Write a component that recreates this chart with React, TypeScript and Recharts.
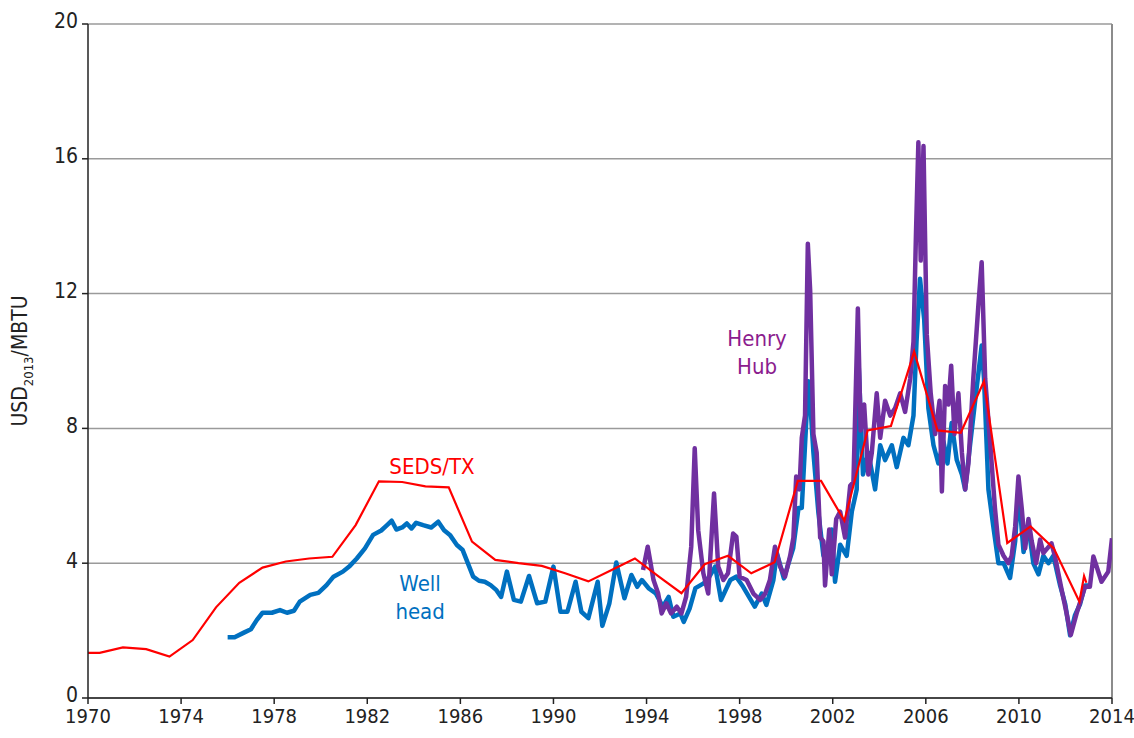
import { CartesianGrid, Line, LineChart, ReferenceDot, ReferenceLine, XAxis, YAxis } from "recharts";

const FONT = "'Liberation Sans Narrow', 'Arial Narrow', 'DejaVu Sans Condensed', sans-serif";

const xTicks = [1970, 1974, 1978, 1982, 1986, 1990, 1994, 1998, 2002, 2006, 2010, 2014];
const yTicks = [0, 4, 8, 12, 16, 20];

// SEDS/TX (annual)
const sedsYears = [
  1970, 1970.5, 1971.5, 1972.5, 1973.5, 1974.5, 1975.5, 1976.5, 1977.5, 1978.5, 1979.5, 1980.5,
  1981.5, 1982.5, 1983.5, 1984.5, 1985.5, 1986.5, 1987.5, 1988.5, 1989.5, 1990.5, 1991.5, 1992.5,
  1993.5, 1994.5, 1995.5, 1996.5, 1997.5, 1998.5, 1999.5, 2000.5, 2001.5, 2002.5, 2003.5, 2004.5,
  2005.5, 2006.5, 2007.5, 2008.5, 2009.5, 2010.5, 2011.5, 2012.6, 2012.8, 2012.9,
];
const sedsValues = [
  1.34, 1.34, 1.5, 1.45, 1.23, 1.72, 2.69, 3.42, 3.87, 4.05, 4.14, 4.19,
  5.13, 6.43, 6.41, 6.28, 6.25, 4.64, 4.1, 4.0, 3.92, 3.7, 3.46, 3.8,
  4.14, 3.62, 3.11, 3.97, 4.22, 3.7, 4.03, 6.44, 6.44, 5.26, 7.94, 8.07,
  10.28, 7.94, 7.87, 9.4, 4.6, 5.09, 4.44, 2.86, 3.62, 3.42,
];

// Well head
const wellYears = [
  1976.0, 1976.3, 1976.7, 1977.0, 1977.25, 1977.5, 1977.9, 1978.25, 1978.55, 1978.85, 1979.1, 1979.55,
  1979.9, 1980.25, 1980.55, 1980.95, 1981.25, 1981.55, 1981.9, 1982.25, 1982.6, 1982.85, 1983.05, 1983.25,
  1983.5, 1983.7, 1983.9, 1984.1, 1984.4, 1984.75, 1985.05, 1985.3, 1985.55, 1985.85, 1986.1, 1986.35,
  1986.55, 1986.8, 1987.05, 1987.3, 1987.55, 1987.75, 1988.0, 1988.3, 1988.6, 1988.95, 1989.3, 1989.65,
  1990.0, 1990.3, 1990.6, 1990.95, 1991.2, 1991.5, 1991.9, 1992.1, 1992.4, 1992.7, 1993.05, 1993.35,
  1993.6, 1993.8, 1994.1, 1994.4, 1994.7, 1994.95, 1995.15, 1995.45, 1995.6, 1995.85, 1996.1, 1996.45,
  1996.7, 1996.95, 1997.2, 1997.6, 1997.85, 1998.15, 1998.65, 1998.95, 1999.15, 1999.45, 1999.6, 1999.9,
  2000.3, 2000.53, 2000.67, 2000.81, 2000.95, 2001.05, 2001.17, 2001.38, 2001.6, 2001.82, 2001.96, 2002.1,
  2002.32, 2002.6, 2002.82, 2003.03, 2003.12, 2003.3, 2003.53, 2003.82, 2004.04, 2004.25, 2004.54, 2004.75,
  2005.04, 2005.25, 2005.47, 2005.6, 2005.75, 2005.93, 2006.11, 2006.33, 2006.54, 2006.76, 2006.93, 2007.11,
  2007.33, 2007.55, 2007.69, 2007.9, 2008.12, 2008.4, 2008.5, 2008.69, 2008.9, 2009.12, 2009.34, 2009.62,
  2009.84, 2009.98, 2010.2, 2010.41, 2010.62, 2010.84, 2011.05, 2011.27, 2011.48, 2011.77, 2011.99, 2012.2,
  2012.41, 2012.63, 2012.84, 2013.06,
];
const wellValues = [
  1.8, 1.8, 1.94, 2.04, 2.31, 2.53, 2.53, 2.61, 2.53, 2.59, 2.86, 3.06,
  3.12, 3.35, 3.6, 3.75, 3.92, 4.14, 4.44, 4.84, 4.97, 5.13, 5.26, 5.0,
  5.06, 5.18, 5.03, 5.2, 5.13, 5.06, 5.23, 4.98, 4.84, 4.54, 4.39, 3.95,
  3.6, 3.48, 3.45, 3.35, 3.2, 3.0, 3.75, 2.91, 2.86, 3.62, 2.81, 2.86,
  3.9, 2.56, 2.56, 3.45, 2.56, 2.37, 3.45, 2.14, 2.8, 4.02, 2.96, 3.65,
  3.3, 3.5, 3.25, 3.1, 2.71, 3.0, 2.41, 2.51, 2.26, 2.65, 3.26, 3.4,
  3.6, 3.9, 2.91, 3.5, 3.6, 3.3, 2.71, 3.1, 2.76, 3.5, 4.3, 3.55,
  4.44, 5.64, 5.64, 7.5, 9.4, 8.6, 7.28, 5.53, 4.22, 4.22, 5.0, 3.45,
  4.55, 4.22, 5.53, 6.19, 9.8, 6.63, 7.28, 6.19, 7.5, 7.06, 7.5, 6.85,
  7.72, 7.5, 8.38, 10.57, 12.44, 11.23, 8.6, 7.5, 6.96, 7.61, 6.96, 8.16,
  7.06, 6.63, 6.19, 7.5, 8.82, 10.46, 9.48, 6.19, 5.09, 4.0, 4.0, 3.56,
  4.65, 6.19, 4.33, 5.09, 4.0, 3.67, 4.22, 4.0, 4.22, 3.34, 2.79, 1.86,
  2.46, 2.79, 3.34, 3.34,
];

// Henry Hub
const hubYears = [
  1993.85, 1994.05, 1994.3, 1994.5, 1994.65, 1994.85, 1995.05, 1995.3, 1995.5, 1995.7, 1995.92, 1996.07,
  1996.22, 1996.44, 1996.65, 1996.9, 1997.08, 1997.3, 1997.5, 1997.72, 1997.86, 1998.0, 1998.3, 1998.59,
  1998.88, 1999.1, 1999.3, 1999.52, 1999.74, 1999.95, 2000.17, 2000.31, 2000.43, 2000.57, 2000.67, 2000.81,
  2000.93, 2001.03, 2001.17, 2001.31, 2001.46, 2001.6, 2001.67, 2001.85, 2001.96, 2002.15, 2002.32, 2002.53,
  2002.75, 2002.89, 2003.08, 2003.2, 2003.35, 2003.53, 2003.68, 2003.89, 2004.04, 2004.25, 2004.47, 2004.68,
  2004.9, 2005.11, 2005.33, 2005.47, 2005.58, 2005.68, 2005.78, 2005.9, 2006.04, 2006.21, 2006.4, 2006.59,
  2006.69, 2006.83, 2006.97, 2007.09, 2007.23, 2007.4, 2007.55, 2007.69, 2007.83, 2008.04, 2008.26, 2008.4,
  2008.55, 2008.76, 2008.97, 2009.12, 2009.34, 2009.55, 2009.69, 2009.84, 2009.98, 2010.12, 2010.27, 2010.41,
  2010.55, 2010.74, 2010.91, 2011.05, 2011.4, 2011.55, 2011.84, 2012.05, 2012.23, 2012.48, 2012.84, 2013.05,
  2013.2, 2013.55, 2013.84, 2014.0,
];
const hubValues = [
  3.8, 4.49, 3.5, 3.1, 2.51, 2.81, 2.51, 2.71, 2.51, 3.0, 4.49, 7.41,
  4.98, 3.7, 3.1, 6.07, 3.9, 3.5, 3.7, 4.88, 4.79, 3.6, 3.5, 3.1,
  2.91, 3.1, 3.5, 4.49, 3.9, 3.6, 4.22, 4.76, 6.57, 6.19, 7.72, 8.38,
  13.48, 12.1, 7.83, 7.28, 4.76, 4.65, 3.34, 5.0, 3.67, 5.31, 5.53, 4.76,
  6.3, 6.41, 11.56, 7.94, 8.71, 6.63, 7.28, 9.04, 7.72, 8.82, 8.38, 8.6,
  9.04, 8.49, 9.48, 10.57, 13.86, 16.49, 12.98, 16.38, 10.79, 9.04, 7.83, 8.82,
  6.13, 9.26, 8.71, 9.86, 7.83, 9.04, 7.28, 6.19, 6.96, 9.48, 11.67, 12.93,
  9.48, 7.61, 5.64, 4.55, 4.22, 4.0, 4.22, 5.09, 6.57, 5.64, 4.44, 5.31,
  4.65, 4.0, 4.7, 4.3, 4.59, 4.2, 3.2, 2.51, 1.87, 2.51, 3.3, 3.3,
  4.2, 3.45, 3.75, 4.74,
];

const toRows = (xs: number[], ys: number[]) => xs.map((x, i) => ({ x, y: ys[i] }));

const sedsData = toRows(sedsYears, sedsValues);
const wellData = toRows(wellYears, wellValues);
const hubData = toRows(hubYears, hubValues);

export default function App() {
  return (
    <div style={{ position: "absolute", left: 0, top: 0, width: 1134, height: 738, background: "#fff", fontFamily: FONT }}>
      <LineChart width={1134} height={738} margin={{ top: 24, right: 22, bottom: 0, left: 0 }}>
        <CartesianGrid vertical={false} stroke="#9a9a9a" strokeWidth={1.5} />
        <XAxis
          type="number"
          dataKey="x"
          domain={[1970, 2014]}
          ticks={xTicks}
          allowDataOverflow
          height={40}
          tickSize={6}
          tickMargin={5}
          stroke="#222"
          strokeWidth={1.5}
          tick={{ fill: "#222", fontSize: 20, fontFamily: FONT }}
        />
        <YAxis
          type="number"
          domain={[0, 20]}
          ticks={yTicks}
          width={88}
          tickSize={6}
          tickMargin={4}
          stroke="#222"
          strokeWidth={1.5}
          tick={{ fill: "#222", fontSize: 21, fontFamily: FONT, dy: -3 }}
        />
        <ReferenceLine x={2014} stroke="#8c8c8c" strokeWidth={2} />
        <Line data={wellData} dataKey="y" type="linear" stroke="#0070c0" strokeWidth={4.5} dot={false} strokeLinejoin="round" isAnimationActive={false} />
        <Line data={hubData} dataKey="y" type="linear" stroke="#7030a0" strokeWidth={4.5} dot={false} strokeLinejoin="round" isAnimationActive={false} />
        <Line data={sedsData} dataKey="y" type="linear" stroke="#ff0000" strokeWidth={2.2} dot={false} isAnimationActive={false} />
        <ReferenceDot x={1984.78} y={6.88} r={0} stroke="none" label={{ value: "SEDS/TX", fill: "#ff0000", fontSize: 22, fontFamily: FONT, position: "center" }} />
        <ReferenceDot x={1984.27} y={3.41} r={0} stroke="none" label={{ value: "Well", fill: "#0070c0", fontSize: 22, fontFamily: FONT, position: "center" }} />
        <ReferenceDot x={1984.27} y={2.58} r={0} stroke="none" label={{ value: "head", fill: "#0070c0", fontSize: 22, fontFamily: FONT, position: "center" }} />
        <ReferenceDot x={1998.75} y={10.68} r={0} stroke="none" label={{ value: "Henry", fill: "#8b1c8e", fontSize: 22, fontFamily: FONT, position: "center" }} />
        <ReferenceDot x={1998.75} y={9.85} r={0} stroke="none" label={{ value: "Hub", fill: "#8b1c8e", fontSize: 22, fontFamily: FONT, position: "center" }} />
      </LineChart>
      <div
        style={{
          position: "absolute",
          left: 22,
          top: 361,
          transform: "translate(-50%, -50%) rotate(-90deg)",
          whiteSpace: "nowrap",
          fontSize: 21,
          color: "#222",
        }}
      >
        USD<sub style={{ fontSize: 13 }}>2013</sub>/MBTU
      </div>
    </div>
  );
}
